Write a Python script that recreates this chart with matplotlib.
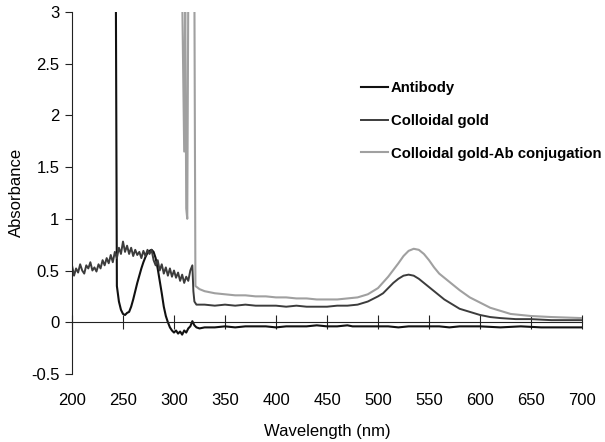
import matplotlib
matplotlib.use('Agg')
import matplotlib.pyplot as plt
import numpy as np

plt.rcParams['font.family'] = ['Liberation Sans', 'DejaVu Sans']

# Antibody (black)
ab_wl = [243, 244, 246, 248, 250, 252, 254, 256, 258, 260, 262, 264, 266, 268, 270,
         272, 274, 276, 278, 280, 282, 284, 286, 288, 290, 292, 294, 296, 298, 300,
         302, 304, 306, 308, 310, 312, 314, 316, 318, 320, 322, 325, 330, 340, 350,
         360, 370, 380, 390, 400, 410, 420, 430, 440, 450, 460, 470, 475, 480, 490,
         500, 510, 520, 530, 540, 550, 560, 570, 580, 590, 600, 620, 640, 660, 680, 700]
ab_abs = [3.2, 0.35, 0.2, 0.12, 0.08, 0.07, 0.09, 0.1, 0.15, 0.22, 0.3, 0.38, 0.45, 0.52, 0.58,
          0.63, 0.67, 0.69, 0.7, 0.68, 0.62, 0.52, 0.4, 0.28, 0.15, 0.06, 0.0, -0.05, -0.08, -0.1,
          -0.08, -0.11, -0.09, -0.12, -0.08, -0.1, -0.06, -0.04, 0.01, -0.03, -0.05, -0.06, -0.05, -0.05, -0.04,
          -0.05, -0.04, -0.04, -0.04, -0.05, -0.04, -0.04, -0.04, -0.03, -0.04, -0.04, -0.03, -0.04, -0.04, -0.04,
          -0.04, -0.04, -0.05, -0.04, -0.04, -0.04, -0.04, -0.05, -0.04, -0.04, -0.04, -0.05, -0.04, -0.05, -0.05, -0.05]

# Colloidal gold (dark grey)
cg_wl = [200, 202, 204, 206, 208, 210, 212, 214, 216, 218, 220, 222, 224, 226, 228,
         230, 232, 234, 236, 238, 240, 242, 244, 246, 248, 250, 252, 254, 256, 258,
         260, 262, 264, 266, 268, 270, 272, 274, 276, 278, 280, 282, 284, 286, 288,
         290, 292, 294, 296, 298, 300, 302, 304, 306, 308, 310, 312, 314, 316, 318,
         319, 320, 322, 330, 340, 350, 360, 370, 380, 390, 400, 410, 420, 430, 440,
         450, 460, 470, 480, 490, 500, 505, 510, 515, 520, 525, 530, 535, 540, 545,
         550, 555, 560, 565, 570, 575, 580, 590, 600, 610, 620, 635, 650, 670, 700]
cg_abs = [0.55, 0.45, 0.52, 0.48, 0.56, 0.5, 0.47, 0.55, 0.52, 0.58, 0.5, 0.53, 0.49, 0.56, 0.52,
          0.6, 0.55, 0.62, 0.57, 0.65, 0.58, 0.68, 0.62, 0.72, 0.66, 0.78, 0.68, 0.74, 0.66, 0.72,
          0.64, 0.7, 0.65, 0.68, 0.62, 0.69, 0.64, 0.7, 0.66, 0.7, 0.6, 0.55, 0.6, 0.5, 0.56,
          0.47, 0.53, 0.45, 0.52, 0.44, 0.5, 0.43, 0.48, 0.4, 0.46, 0.38, 0.44, 0.4, 0.5, 0.55,
          0.3, 0.2, 0.17, 0.17, 0.16, 0.17, 0.16, 0.17, 0.16, 0.16, 0.16, 0.15, 0.16, 0.15, 0.15,
          0.15, 0.16, 0.16, 0.17, 0.2, 0.25, 0.28, 0.33, 0.38, 0.42, 0.45, 0.46, 0.45, 0.42, 0.38,
          0.34, 0.3, 0.26, 0.22, 0.19, 0.16, 0.13, 0.1, 0.07, 0.05, 0.04, 0.03, 0.03, 0.02, 0.02]

# Colloidal gold-Ab conjugation (light grey)
cj_wl = [308, 310, 311, 312, 313, 314, 316, 318, 320, 321, 325, 330, 340, 350, 360,
         370, 380, 390, 400, 410, 420, 430, 440, 450, 460, 470, 480, 490, 500, 510,
         520, 525, 530, 535, 540, 545, 550, 555, 560, 565, 570, 580, 590, 600, 610,
         620, 630, 640, 650, 670, 700]
cj_abs = [3.2, 1.65, 3.2, 1.1, 1.0, 3.2, 3.2, 3.2, 3.2, 0.35, 0.32, 0.3, 0.28, 0.27, 0.26,
          0.26, 0.25, 0.25, 0.24, 0.24, 0.23, 0.23, 0.22, 0.22, 0.22, 0.23, 0.24, 0.27, 0.33, 0.44,
          0.57, 0.64, 0.69, 0.71, 0.7, 0.66, 0.6, 0.53, 0.47, 0.43, 0.39, 0.31, 0.24, 0.19, 0.14,
          0.11, 0.08, 0.07, 0.06, 0.05, 0.04]

xticks = [200, 250, 300, 350, 400, 450, 500, 550, 600, 650, 700]
yticks = [3, 2.5, 2, 1.5, 1, 0.5, 0, -0.5]
ytick_labels = ['3', '2.5', '2', '1.5', '1', '0.5', '0', '-0.5']

fig = plt.figure(figsize=(6.05, 4.42), dpi=100)
ax = fig.add_axes([0.119, 0.154, 0.843, 0.819])

ax.plot(ab_wl, ab_abs, color='#111111', lw=1.5, label='Antibody')
ax.plot(cg_wl, cg_abs, color='#3c3c3c', lw=1.4, label='Colloidal gold')
ax.plot(cj_wl, cj_abs, color='#a0a0a0', lw=1.5, label='Colloidal gold-Ab conjugation')

ax.set_xlim(200, 700)
ax.set_ylim(-0.5, 3)
ax.set_xticks(xticks)
ax.set_yticks(yticks)
ax.set_yticklabels(ytick_labels)

ax.spines['right'].set_visible(False)
ax.spines['bottom'].set_visible(False)
ax.spines['top'].set_position(('data', 0))
ax.spines['top'].set_color('#222222')
ax.spines['left'].set_color('#222222')
ax.tick_params(axis='x', bottom=False, labelbottom=True, top=True, labeltop=False,
               direction='inout', length=10, color='#222222', labelsize=12, pad=9)
ax.tick_params(axis='y', direction='out', length=5, color='#222222', labelsize=12, pad=4)

ax.set_xlabel('Wavelength (nm)', fontsize=12, labelpad=11)
ax.set_ylabel('Absorbance', fontsize=12, labelpad=5)

ax.legend(loc='upper left', bbox_to_anchor=(0.54, 0.845), frameon=False,
          prop={'weight': 'bold', 'size': 10.7}, handlelength=1.8, handletextpad=0.2,
          labelspacing=1.25)

fig.savefig('out.png', dpi=100)
